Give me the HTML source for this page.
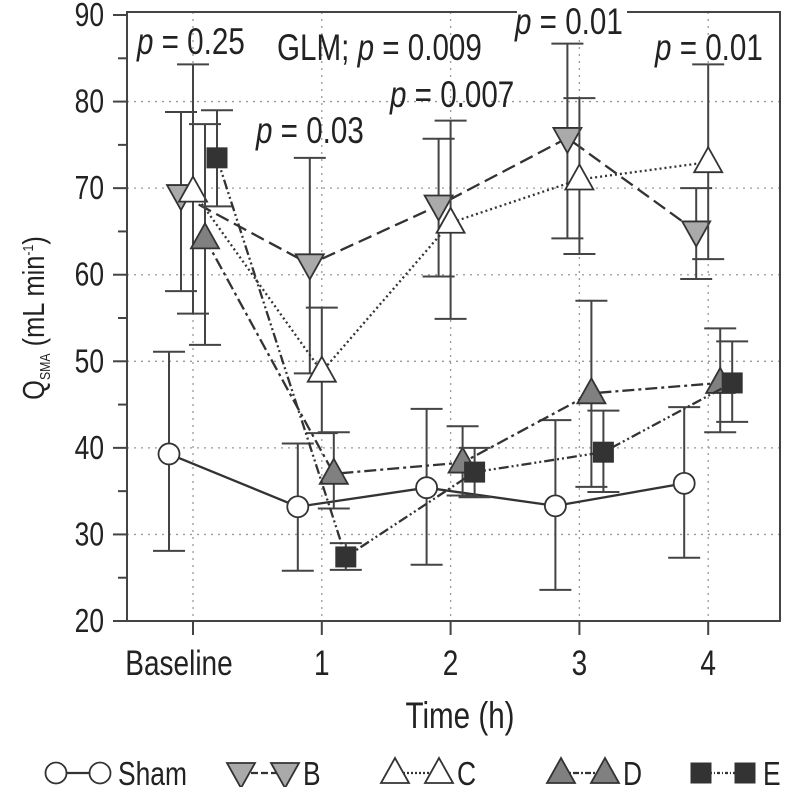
<!DOCTYPE html>
<html><head><meta charset="utf-8">
<style>
html,body{margin:0;padding:0;background:#fff;}
svg{display:block;font-family:"Liberation Sans",sans-serif;}
</style></head>
<body>
<svg id="chart" width="786" height="787" viewBox="0 0 786 787">
<g id="grid"></g>
<rect x="127" y="12" width="653" height="609" fill="none" stroke="#444" stroke-width="2"/>
<g id="axes"></g>
<g id="series"></g>
<g id="annot" font-size="37" fill="#222">
<rect x="517" y="0" width="110" height="40" fill="#fff"/>
<text class="c" x="137" y="54"><tspan font-style="italic">p</tspan> = 0.25</text>
<text class="c" x="277" y="60">GLM; <tspan font-style="italic">p</tspan> = 0.009</text>
<text class="c" x="256" y="143"><tspan font-style="italic">p</tspan> = 0.03</text>
<text class="c" x="390" y="107"><tspan font-style="italic">p</tspan> = 0.007</text>
<text class="c" x="515" y="34"><tspan font-style="italic">p</tspan> = 0.01</text>
<text class="c" x="655" y="60"><tspan font-style="italic">p</tspan> = 0.01</text>
</g>
<text class="c" x="460" y="728" font-size="37" text-anchor="middle" fill="#222">Time (h)</text>
<g transform="translate(44,318) rotate(-90) scale(0.82,1)">
<text x="0" y="0" font-size="31" text-anchor="middle" fill="#222">Q<tspan font-size="15" dy="6">SMA</tspan><tspan dy="-6"> (mL min</tspan><tspan font-size="15" dy="-11">-1</tspan><tspan dy="11">)</tspan></text>
</g>
<g id="legend"></g>
</svg>
<script>
const categories = ["Baseline","1","2","3","4"];
const yTicks = [20,30,40,50,60,70,80,90];
const seriesNames = ["Sham","B","C","D","E"];
const shamMean = [39.3,33.2,35.4,33.3,35.9];
const shamUp = [51.1,40.5,44.5,43.2,44.7];
const shamLow = [28.1,25.8,26.5,23.6,27.3];
const bMean = [69.2,61.2,68.0,75.8,65.0];
const bUp = [78.8,73.5,75.7,86.7,70.0];
const bLow = [58.1,48.6,59.8,64.2,59.5];
const cMean = [69.6,48.8,66.0,71.0,73.0];
const cUp = [84.3,56.2,77.8,80.4,84.3];
const cLow = [55.5,41.7,54.9,62.4,61.8];
const dMean = [64.2,37.0,38.3,46.3,47.5];
const dUp = [77.4,41.8,42.5,57.0,53.8];
const dLow = [51.9,33.0,34.5,35.5,41.8];
const eMean = [73.5,27.4,37.2,39.5,47.5];
const eUp = [79.0,29.0,40.0,44.3,52.3];
const eLow = [67.9,25.9,34.3,34.9,43.0];

const NS="http://www.w3.org/2000/svg";
function el(t,a,p){const e=document.createElementNS(NS,t);for(const k in a)e.setAttribute(k,a[k]);p.appendChild(e);return e;}
const y=v=>621-(v-20)*8.657;
const x=i=>193+i*128.8;
const grid=document.getElementById('grid'),axes=document.getElementById('axes'),ser=document.getElementById('series'),leg=document.getElementById('legend');

yTicks.forEach(v=>{
  if(v>20&&v<90){const g=el('line',{x1:127,x2:780,y1:y(v),y2:y(v),stroke:'#999','stroke-width':1.3,'stroke-dasharray':'2 5'},grid);
  
  }
  const t=el('line',{x1:113,x2:127,y1:y(v),y2:y(v),stroke:'#444','stroke-width':2},axes);
  
  
  const lb=el('text',{x:104,y:y(v)+11,'font-size':33,'text-anchor':'end',fill:'#222',class:'c'},axes);
  lb.textContent=v;
  
  
  if(v<90){const m=el('line',{x1:118,x2:127,y1:y(v+5),y2:y(v+5),stroke:'#444','stroke-width':2},axes);
  
  }
});
categories.forEach((c,i)=>{
  const g=el('line',{x1:x(i),x2:x(i),y1:12,y2:621,stroke:'#999','stroke-width':1.3,'stroke-dasharray':'2 5'},grid);
  
  
  const t=el('line',{x1:x(i),x2:x(i),y1:621,y2:635,stroke:'#444','stroke-width':2},axes);
  
  
  const lb=el('text',{x:x(i)-(i==0?14:0),y:675,'font-size':35,'text-anchor':'middle',fill:'#222',class:'c'},axes);
  lb.textContent=c;
  
  
});

const styles=[
 {m:shamMean,u:shamUp,l:shamLow,off:-24,dash:'',marker:'circle',fill:'#fff'},
 {m:bMean,u:bUp,l:bLow,off:-12,dash:'14 6',marker:'down',fill:'#aaa'},
 {m:cMean,u:cUp,l:cLow,off:0,dash:'2 3',marker:'up',fill:'#fff'},
 {m:dMean,u:dUp,l:dLow,off:12,dash:'12 4 3 4',marker:'up',fill:'#808080'},
 {m:eMean,u:eUp,l:eLow,off:24,dash:'10 3 2 3 2 3',marker:'square',fill:'#333'}
];
function marker(type,cx,cy,fill,parent,name){
  let e;
  if(type=='circle')e=el('circle',{cx,cy,r:10.5,fill,stroke:'#333','stroke-width':1.8},parent);
  else if(type=='up')e=el('polygon',{points:`${cx-14},${cy+10} ${cx+14},${cy+10} ${cx},${cy-15}`,fill,stroke:'#333','stroke-width':1.8},parent);
  else if(type=='down')e=el('polygon',{points:`${cx-14},${cy-10} ${cx+14},${cy-10} ${cx},${cy+15}`,fill,stroke:'#333','stroke-width':1.8},parent);
  else e=el('rect',{x:cx-10,y:cy-10,width:20,height:20,fill,stroke:'#333','stroke-width':1},parent);
  
  
  return e;
}
styles.forEach((s,k)=>{
  const g=el('g',{},ser);
  
  
  s.m.forEach((v,i)=>{
    const cx=x(i)+s.off;
    const eb=el('path',{d:`M${cx},${y(s.u[i])}V${y(s.l[i])}M${cx-16},${y(s.u[i])}h32M${cx-16},${y(s.l[i])}h32`,stroke:'#444','stroke-width':2,fill:'none'},g);
    
    
  });
  const pts=s.m.map((v,i)=>`${x(i)+s.off},${y(v)}`).join(' ');
  const ln=el('polyline',{points:pts,fill:'none',stroke:'#333','stroke-width':2.3,'stroke-dasharray':s.dash},g);
  
  
  s.m.forEach((v,i)=>marker(s.marker,x(i)+s.off,y(v),s.fill,g,'point-'+seriesNames[k]+'-'+categories[i]));
});
const legX=[43,228,382,548,688];
const legDash=['','7 3','2 2','6 2 2 2','3 2 1 2'];
styles.forEach((s,k)=>{
  const g=el('g',{},leg);
  
  
  const x0=legX[k]+13,cy=773;
  el('line',{x1:x0,x2:x0+44,y1:cy,y2:cy,stroke:'#333','stroke-width':2.3,'stroke-dasharray':legDash[k]},g);
  marker(s.marker,x0,cy,s.fill,g,'legend-marker');
  marker(s.marker,x0+44,cy,s.fill,g,'legend-marker');
  const t=el('text',{x:x0+62,y:cy+12,'font-size':33,fill:'#222',class:'c'},g);
  t.textContent=seriesNames[k];
  
  
});
document.querySelectorAll('text.c').forEach(t=>{
  const tx=parseFloat(t.getAttribute('x'));
  t.setAttribute('transform',`translate(${tx},0) scale(0.8,1) translate(${-tx},0)`);
});
</script>
</body></html>
